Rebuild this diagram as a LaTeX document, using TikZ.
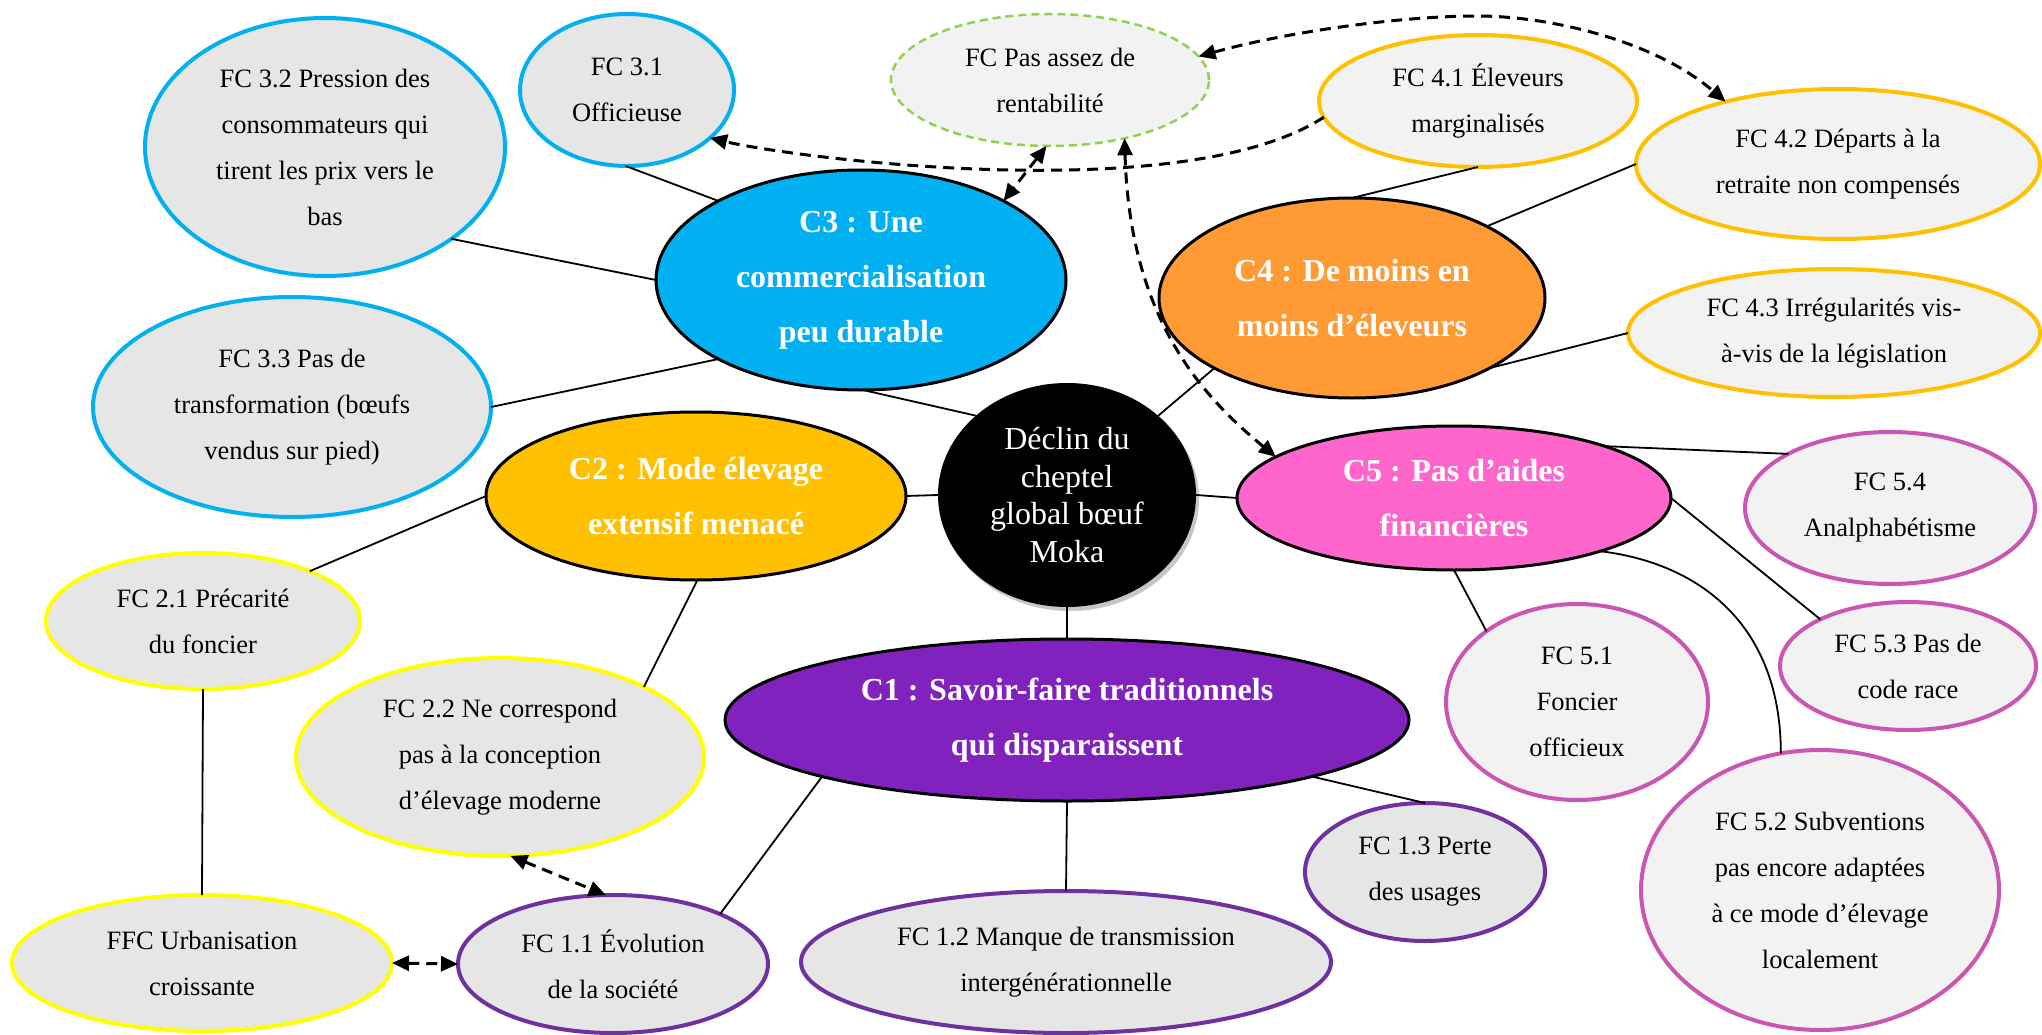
\documentclass[tikz,border=0pt]{standalone}
\usepackage{fontspec}
\setmainfont{Liberation Serif}
\usetikzlibrary{shapes.geometric,arrows.meta,shadows}
\definecolor{cthree}{HTML}{00B0F0}
\definecolor{ctwo}{HTML}{FFC000}
\definecolor{ctwob}{HTML}{FFFF00}
\definecolor{cfour}{HTML}{FF9A35}
\definecolor{cfourb}{HTML}{FFC000}
\definecolor{cfive}{HTML}{FF66CC}
\definecolor{cfiveb}{HTML}{CA55B2}
\definecolor{cone}{HTML}{8222BE}
\definecolor{coneb}{HTML}{7030A0}
\definecolor{greydark}{HTML}{E6E6E6}
\definecolor{greylight}{HTML}{F2F2F2}
\definecolor{greenb}{HTML}{92D050}
\begin{document}
\begin{tikzpicture}[x=1pt,y=-1pt,
  fcnode/.style={ellipse, inner sep=0pt, outer sep=0pt, align=center,
    font=\fontsize{26.5}{46}\selectfont, line width=4pt, text=black},
  cnode/.style={ellipse, inner sep=0pt, outer sep=0pt, align=center,
    font=\fontsize{32}{55}\selectfont\bfseries, line width=3pt, draw=black, text=white},
  conn/.style={line width=1.8pt, draw=black},
  darr/.style={line width=3pt, dash pattern=on 11pt off 7pt,
    {Triangle[length=17pt,width=15pt]}-{Triangle[length=17pt,width=15pt]}},
  sarr/.style={line width=3pt, dash pattern=on 11pt off 7pt,
    -{Triangle[length=17pt,width=15pt]}}
]
\useasboundingbox (0,0) rectangle (2042,1035);

% centre
\node[ellipse, fill=black, text=white, inner sep=0pt, align=center,
  minimum width=258pt, minimum height=224pt,
  font=\fontsize{32}{37.5}\selectfont,
  drop shadow={shadow xshift=3pt, shadow yshift=-4pt, fill=black!22, opacity=1}]
  (ctr) at (1067,495) {Déclin du\\cheptel\\global bœuf\\Moka};

% category nodes
\node[cnode, fill=cthree, minimum width=410pt, minimum height=220pt] (c3) at (861,280)
  {C3 : Une\\commercialisation\\peu durable};
\node[cnode, fill=ctwo, minimum width=420pt, minimum height=168pt] (c2) at (696,496)
  {C2 : Mode élevage\\extensif menacé};
\node[cnode, fill=cfour, minimum width=386pt, minimum height=200pt] (c4) at (1352,298)
  {C4 : De moins en\\moins d’éleveurs};
\node[cnode, fill=cfive, minimum width=434pt, minimum height=144pt] (c5) at (1454,498)
  {C5 : Pas d’aides\\financières};
\node[cnode, fill=cone, minimum width=684pt, minimum height=162pt] (c1) at (1067,720)
  {C1 : Savoir-faire traditionnels\\qui disparaissent};

% C3 factors
\node[fcnode, draw=cthree, fill=greydark, minimum width=360pt, minimum height=258pt] (fc32) at (325,147)
  {FC 3.2 Pression des\\consommateurs qui\\tirent les prix vers le\\bas};
\node[fcnode, draw=cthree, fill=greydark, minimum width=214pt, minimum height=152pt] (fc31) at (627,90)
  {FC 3.1\\Officieuse};
\node[fcnode, draw=cthree, fill=greydark, minimum width=398pt, minimum height=220pt] (fc33) at (292,407)
  {FC 3.3 Pas de\\transformation (bœufs\\vendus sur pied)};
\node[fcnode, draw=greenb, fill=greylight, line width=2.5pt, dash pattern=on 8pt off 5pt,
  minimum width=318pt, minimum height=132pt] (fcpas) at (1050,80)
  {FC Pas assez de\\rentabilité};

% C2 factors
\node[fcnode, draw=ctwob, fill=greydark, minimum width=314pt, minimum height=136pt] (fc21) at (203,621)
  {FC 2.1 Précarité\\du foncier};
\node[fcnode, draw=ctwob, fill=greydark, minimum width=408pt, minimum height=198pt] (fc22) at (500,757)
  {FC 2.2 Ne correspond\\pas à la conception\\d’élevage moderne};
\node[fcnode, draw=ctwob, fill=greydark, minimum width=380pt, minimum height=136pt] (ffc) at (202,963)
  {FFC Urbanisation\\croissante};

% C4 factors
\node[fcnode, draw=cfourb, fill=greylight, minimum width=318pt, minimum height=132pt] (fc41) at (1478,101)
  {FC 4.1 Éleveurs\\marginalisés};
\node[fcnode, draw=cfourb, fill=greylight, minimum width=404pt, minimum height=150pt] (fc42) at (1838,164)
  {FC 4.2 Départs à la\\retraite non compensés};
\node[fcnode, draw=cfourb, fill=greylight, minimum width=412pt, minimum height=128pt] (fc43) at (1834,333)
  {FC 4.3 Irrégularités vis-\\à-vis de la législation};

% C5 factors
\node[fcnode, draw=cfiveb, fill=greylight, minimum width=290pt, minimum height=152pt] (fc54) at (1890,508)
  {FC 5.4\\Analphabétisme};
\node[fcnode, draw=cfiveb, fill=greylight, minimum width=256pt, minimum height=128pt] (fc53) at (1908,666)
  {FC 5.3 Pas de\\code race};
\node[fcnode, draw=cfiveb, fill=greylight, minimum width=262pt, minimum height=196pt] (fc51) at (1577,702)
  {FC 5.1\\Foncier\\officieux};
\node[fcnode, draw=cfiveb, fill=greylight, minimum width=358pt, minimum height=280pt] (fc52) at (1820,890)
  {FC 5.2 Subventions\\pas encore adaptées\\à ce mode d’élevage\\localement};

% C1 factors
\node[fcnode, draw=coneb, fill=greydark, minimum width=240pt, minimum height=138pt] (fc13) at (1425,872)
  {FC 1.3 Perte\\des usages};
\node[fcnode, draw=coneb, fill=greydark, minimum width=530pt, minimum height=142pt] (fc12) at (1066,962)
  {FC 1.2 Manque de transmission\\intergénérationnelle};
\node[fcnode, draw=coneb, fill=greydark, minimum width=310pt, minimum height=138pt] (fc11) at (613,964)
  {FC 1.1 Évolution\\de la société};

% solid connectors
\draw[conn] (fc31.-91) -- (c3.151);
\draw[conn] (fc32.-36) -- (c3.180);
\draw[conn] (fc33.0) -- (c3.209);
\draw[conn] (c3.271) -- (ctr.139);
\draw[conn] (c2.east) -- (ctr.west);
\draw[conn] (fc21.25) -- (c2.180);
\draw[conn] (c2.271) -- (fc22.26);
\draw[conn] (fc21.south) -- (ffc.north);
\draw[conn] (c1.193.4) -- (fc11.25);
\draw[conn] (c1.south) -- (fc12.north);
\draw[conn] (c1.-13.4) -- (fc13.north);
\draw[conn] (ctr.south) -- (c1.north);
\draw[conn] (c4.207.7) -- (ctr.41);
\draw[conn] (c4.north) -- (fc41.south);
\draw[conn] (c4.28) -- (fc42.west);
\draw[conn] (c4.-27) -- (fc43.west);
\draw[conn] (ctr.east) -- (c5.west);
\draw[conn] (c5.19) -- (fc54.152);
\draw[conn] (c5.east) -- (fc53.152);
\draw[conn] (c5.-90) -- (fc51.142);
\draw[conn] (c5.-20.6) .. controls +(100,12) and +(0,-128) .. (fc52.106);

% dashed arrows
\draw[darr] (fc22.-84) -- (fc11.96);
\draw[darr] (ffc.east) -- (fc11.west);
\draw[darr] (fcpas.267) -- (c3.29);
\draw[darr] (fcpas.-38) .. controls +(5,181) and +(-73,-60) .. (c5.167);
\draw[sarr] (fc41.186) .. controls +(-142,92) and +(79,19) .. (fc31.-30);
\coordinate (arctop) at (1477,16);
\draw[darr] (fcpas.9.65) .. controls +(90,-25) and +(-75,0) .. (arctop)
  .. controls +(75,0) and +(-70,-60) .. (fc42.151.8);
\end{tikzpicture}
\end{document}
